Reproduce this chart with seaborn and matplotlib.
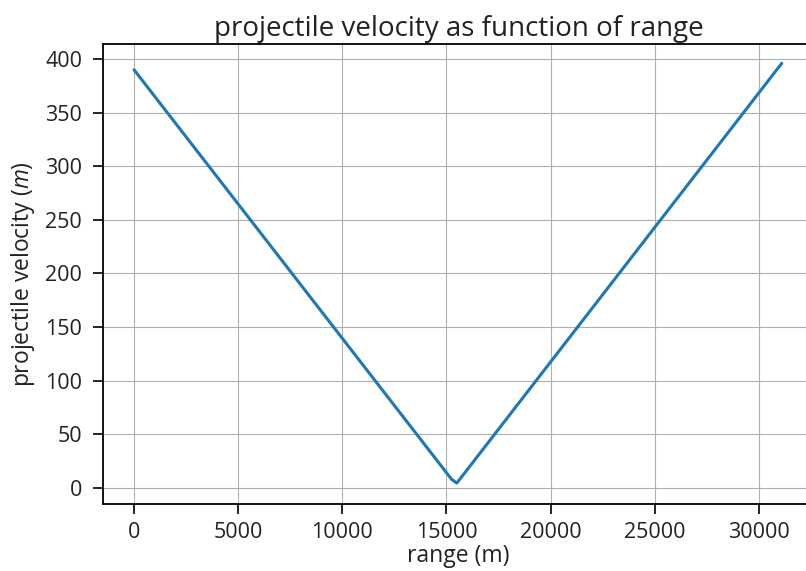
import matplotlib
matplotlib.use("Agg")
import matplotlib.pyplot as plt
import seaborn as sns
import pandas as pd

# values
range_m = [0, 15250, 15500, 31100]
velocity = [390, 8, 4.5, 396]

sns.set_style("ticks", {
    "axes.edgecolor": "black",
    "axes.grid": True,
    "grid.color": "#b0b0b0",
    "grid.linestyle": "-",
})
plt.rcParams['font.family'] = ['Open Sans', 'DejaVu Sans']
plt.rcParams['mathtext.fontset'] = 'custom'
plt.rcParams['mathtext.it'] = 'Open Sans:italic'
plt.rcParams['mathtext.rm'] = 'Open Sans'

df = pd.DataFrame({"range": range_m, "velocity": velocity})

fig = plt.figure(figsize=(8.06, 5.71), dpi=100)
ax = fig.add_axes([103 / 806, 1 - 504 / 571, (814 - 103) / 806, 460 / 571])

sns.lineplot(data=df, x="range", y="velocity", ax=ax, color="#1f77b4", linewidth=2.2)

ax.set_xlim(-1490, 32650)
ax.set_ylim(-15, 414)
ax.set_xticks([0, 5000, 10000, 15000, 20000, 25000, 30000])
ax.set_yticks(range(0, 401, 50))
ax.tick_params(labelsize=15.5, length=7, width=1.2, pad=4, color="black", labelcolor="#222222")
ax.tick_params(axis="y", pad=8)
ax.tick_params(axis="x", pad=6)
for s in ax.spines.values():
    s.set_linewidth(1.3)
ax.set_title("projectile velocity as function of range", fontsize=20, color="#222222", pad=6)
ax.set_xlabel("range (m)", fontsize=16.5, color="#222222", labelpad=1)
ax.set_ylabel("projectile velocity $(m)$", fontsize=16.5, color="#222222", labelpad=6)

fig.savefig("out.png", dpi=100)
